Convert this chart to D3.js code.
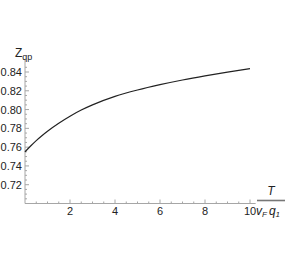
<!DOCTYPE html>
<html><head><meta charset="utf-8">
<script src="https://cdn.jsdelivr.net/npm/d3@7"></script>
<style>body{margin:0;background:#fff}svg{display:block}</style>
</head><body>
<svg id="c" width="287" height="255"></svg>
<script>
const Tvals = [0, 0.25, 0.5, 0.75, 1, 1.5, 2, 2.5, 3, 4, 5, 6, 7, 8, 9, 10];
const Zvals = [0.755, 0.7612, 0.767, 0.7722, 0.777, 0.7855, 0.793, 0.7995, 0.805, 0.814, 0.8208, 0.8265, 0.8315, 0.8359, 0.8399, 0.8436];
const xTicks = [2, 4, 6, 8, 10];
const yTicks = [0.72, 0.74, 0.76, 0.78, 0.80, 0.82, 0.84];

const svg = d3.select("#c");
const x = d3.scaleLinear().domain([0, 10]).range([25, 250]);
const y = d3.scaleLinear().domain([0.70, 0.84]).range([203.5, 72]);
const axisColor = "#a6a6a6";
const font = "Liberation Sans, Arial, sans-serif";

// x axis
const gx = svg.append("g");
gx.append("line").attr("x1", x(0)).attr("x2", x(10.25)).attr("y1", y(0.70)).attr("y2", y(0.70))
  .attr("stroke", axisColor).attr("stroke-width", 1);
d3.range(0.5, 10.01, 0.5).forEach(t => {
  const major = Math.abs(t % 2) < 1e-9;
  gx.append("line").attr("x1", x(t)).attr("x2", x(t)).attr("y1", y(0.70)).attr("y2", y(0.70) - (major ? 4 : 2))
    .attr("stroke", axisColor).attr("stroke-width", 1);
});
xTicks.forEach(t => {
  gx.append("text").attr("x", x(t)).attr("y", 215).attr("text-anchor", "middle")
    .attr("font-family", font).attr("font-size", 11).attr("fill", "#222").text(t);
});

// y axis
const gy = svg.append("g");
gy.append("line").attr("x1", x(0)).attr("x2", x(0)).attr("y1", y(0.70)).attr("y2", 60)
  .attr("stroke", axisColor).attr("stroke-width", 1);
d3.range(0.705, 0.8451, 0.005).forEach(v => {
  const major = Math.abs(Math.round(v * 1000) % 20) < 1e-6;
  gy.append("line").attr("x1", x(0)).attr("x2", x(0) + (major ? 4 : 2)).attr("y1", y(v)).attr("y2", y(v))
    .attr("stroke", axisColor).attr("stroke-width", 1);
});
yTicks.forEach(v => {
  gy.append("text").attr("x", 22).attr("y", y(v) + 4).attr("text-anchor", "end")
    .attr("font-family", font).attr("font-size", 11).attr("fill", "#222").text(v.toFixed(2));
});

// curve
const data = Tvals.map((t, i) => [t, Zvals[i]]);
svg.append("path").datum(data)
  .attr("d", d3.line().x(d => x(d[0])).y(d => y(d[1])).curve(d3.curveMonotoneX))
  .attr("fill", "none").attr("stroke", "#222").attr("stroke-width", 1.2);

// y label Z_qp
const yl = svg.append("text").attr("x", 15).attr("y", 57).attr("font-family", font).attr("font-size", 12).attr("fill", "#222");
yl.append("tspan").text("Z");
yl.append("tspan").attr("font-size", 9).attr("dy", 3).text("qp");

// x label T / (v_F q_1)
svg.append("text").attr("x", 271).attr("y", 195).attr("text-anchor", "middle").attr("font-family", font)
  .attr("font-style", "italic").attr("font-size", 12).attr("fill", "#222").text("T");
svg.append("line").attr("x1", 257).attr("x2", 285).attr("y1", 200.5).attr("y2", 200.5)
  .attr("stroke", "#777").attr("stroke-width", 1.6);
const xl = svg.append("text").attr("x", 256).attr("y", 215).attr("font-family", font)
  .attr("font-style", "italic").attr("font-size", 12).attr("fill", "#222");
xl.append("tspan").text("v");
xl.append("tspan").attr("font-size", 8).attr("dy", 2).text("F");
xl.append("tspan").attr("dy", -2).attr("dx", 2).text("q");
xl.append("tspan").attr("font-size", 8).attr("dy", 2).text("1");
</script>
</body></html>
